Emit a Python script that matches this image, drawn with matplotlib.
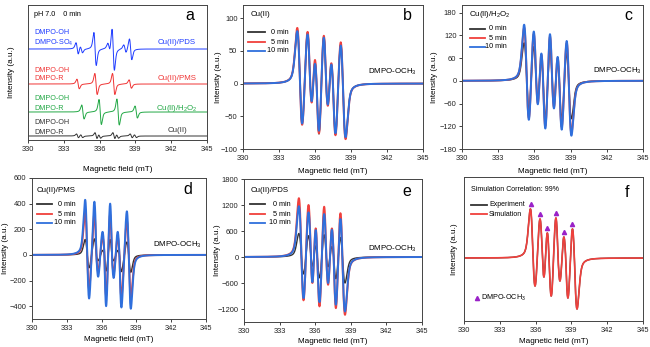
import numpy as np
import matplotlib
matplotlib.use("Agg")
import matplotlib.pyplot as plt

plt.rcParams['font.family'] = ['Liberation Sans', 'DejaVu Sans']
plt.rcParams['mathtext.fontset'] = 'custom'
plt.rcParams['mathtext.rm'] = 'Liberation Sans'
plt.rcParams['mathtext.it'] = 'Liberation Sans'

W, H = 650, 347

# ---------------- DATA ----------------
field_ticks = [330, 333, 336, 339, 342, 345]
series_labels = ["0 min", "5 min", "10 min"]

# Panel a: stacked spectra, line centres (mT) and half peak-to-peak amplitudes (arb.)
a_blue_centers = [334.12, 334.47, 335.62, 336.78, 337.14, 338.12, 338.60]
a_blue_amps = [6.0, 3.5, 16.5, 4.5, 21.0, 4.0, 10.5]
a_red_centers = [334.20, 335.70, 337.18, 338.57]
a_red_amps = [4.8, 10.5, 10.5, 4.2]
a_green_centers = [334.60, 336.05, 337.55, 339.07]
a_green_amps = [7.0, 12.5, 13.0, 6.0]
a_black_centers = [334.15, 334.50, 335.70, 336.00, 337.20, 337.50, 338.65, 339.00]
a_black_amps = [2.0, 1.5, 3.2, 2.0, 3.2, 2.0, 2.0, 1.5]

# Panel b: Cu(II) – extrema positions (mT) and values
b_peak_x = [334.53, 335.42, 335.97, 336.75, 337.33, 338.14]
b_trough_x = [334.94, 335.72, 336.33, 337.08, 337.70, 338.53]
b_peaks_0 = [82, 78, 33, 72, 29, 60]
b_troughs_0 = [-60, -27, -77, -32, -77, -82]
b_peaks_5 = [85, 79, 36, 73, 31, 63]
b_troughs_5 = [-63, -29, -76, -34, -79, -85]
b_peaks_10 = [80, 75, 30, 70, 29, 58]
b_troughs_10 = [-61, -27, -72, -32, -76, -82]

# Panel c: Cu(II)/H2O2
c_peak_x = [335.15, 335.98, 336.56, 337.30, 337.90, 338.68]
c_trough_x = [335.56, 336.28, 336.90, 337.63, 338.26, 339.04]
c_peaks_0 = [100, 90, 55, 82, 52, 72]
c_troughs_0 = [-75, -45, -98, -55, -100, -100]
c_peaks_5 = [140, 124, 68, 117, 60, 100]
c_troughs_5 = [-98, -59, -120, -69, -122, -138]
c_peaks_10 = [148, 130, 72, 123, 63, 105]
c_troughs_10 = [-103, -62, -126, -73, -129, -145]

# Panel d: Cu(II)/PMS
d_peak_x = [334.57, 335.43, 336.09, 336.78, 337.41, 338.16]
d_trough_x = [334.94, 335.66, 336.38, 337.00, 337.67, 338.53]
d_peaks_0 = [120, 125, 35, 120, 35, 100]
d_troughs_0 = [-100, -45, -125, -45, -130, -135]
d_peaks_5 = [330, 320, 140, 315, 140, 265]
d_troughs_5 = [-265, -130, -320, -140, -330, -335]
d_peaks_10 = [430, 415, 180, 400, 180, 340]
d_troughs_10 = [-340, -170, -400, -180, -410, -420]

# Panel e: Cu(II)/PDS
e_peak_x = [334.63, 335.47, 336.04, 336.76, 337.38, 338.11]
e_trough_x = [335.03, 335.76, 336.34, 337.10, 337.75, 338.50]
e_peaks_0 = [543, 490, 256, 512, 240, 450]
e_troughs_0 = [-390, -210, -480, -225, -500, -600]
e_peaks_5 = [1357, 1200, 660, 1160, 660, 1010]
e_troughs_5 = [-1000, -600, -1140, -640, -1180, -1335]
e_peaks_10 = [1171, 1030, 620, 990, 630, 877]
e_troughs_10 = [-950, -580, -1040, -600, -1100, -1257]

# Panel f: experiment / simulation (arb. units)
f_peak_x = [335.59, 336.37, 336.98, 337.71, 338.36, 339.08]
f_trough_x = [335.95, 336.73, 337.29, 338.05, 338.70, 339.45]
f_peaks = [49, 39, 25, 40, 21, 29]
f_troughs = [-28, -19, -38, -23, -40, -51]

# ---------------- helpers ----------------
x = np.linspace(330, 345, 3001)


def profile(xx, c, h, eta=0.5):
    u = (xx - c) / h
    lor = (16.0 / 9.0) * (-u) / (1 + u ** 2 / 3.0) ** 2
    gau = -u * np.exp(0.5 - u ** 2 / 2.0)
    return eta * lor + (1 - eta) * gau


def lines_spectrum(centers, amps, h):
    c = np.asarray(centers)[None, :]
    return (profile(x[:, None], c, h) * np.asarray(amps)[None, :]).sum(axis=1)


def fitted_spectrum(px, tx, pv, tv, hfac=1.2, eta=0.35):
    """Derivative lines whose positive / negative lobes are scaled so that the
    summed curve reaches the peak and trough values read from the picture."""
    px, tx = np.asarray(px, float), np.asarray(tx, float)
    pv, tv = np.asarray(pv, float), np.asarray(tv, float)
    centers = (px + tx) / 2
    h = np.mean(tx - px) / 2 * hfac
    U = (x[:, None] - centers[None, :]) / h
    G = profile(x[:, None], centers[None, :], h, eta)
    neg = U < 0
    Ap, At = pv.copy(), -tv.copy()
    y = None
    for _ in range(150):
        y = np.where(neg, G * Ap[None, :], G * At[None, :]).sum(axis=1)
        ap = np.array([y[np.abs(x - p) < 0.1].max() for p in px])
        at = np.array([y[np.abs(x - t) < 0.1].min() for t in tx])
        Ap += 0.5 * (pv - ap)
        At += 0.5 * (at - tv)
    return y


fig = plt.figure(figsize=(W / 100, H / 100), dpi=100)


def add_ax(l, t, r, b):
    return fig.add_axes([l / W, 1 - b / H, (r - l) / W, (b - t) / H])


def ftext(xp, yp, s, **kw):
    kw.setdefault('fontsize', 5.2)
    kw.setdefault('va', 'center')
    fig.text(xp / W, 1 - yp / H, s, **kw)


def fline(x0, x1, yp, color, lw=1.3):
    fig.add_artist(plt.Line2D([x0 / W, x1 / W], [1 - yp / H, 1 - yp / H],
                              color=color, lw=lw, transform=fig.transFigure))


def style(ax, ylab_x, xlab_y, yticks=None):
    ax.set_xlim(330, 345)
    ax.set_xticks(field_ticks)
    ax.tick_params(labelsize=5.4, length=2.5, width=0.6, direction='out', pad=1.5,
                   colors='#222222')
    for s in ax.spines.values():
        s.set_linewidth(0.7)
        s.set_color('#444444')
    if yticks is None:
        ax.set_yticks([])
    else:
        ax.set_yticks(yticks)
    ax.set_xlabel("Magnetic field (mT)", fontsize=5.9)
    ax.set_ylabel("Intensity (a.u.)", fontsize=5.9)
    ax.xaxis.set_label_coords(0.5, xlab_y)
    ax.yaxis.set_label_coords(ylab_x, 0.5)


BLK = '#333333'
RED = '#f0403c'
BLU = '#2f6fdc'
cols = [BLK, RED, BLU]
lws = [1.0, 1.4, 1.4]

# ---------------- Panel a ----------------
ax = add_ax(28, 5, 207, 140)
A_BLU, A_RED, A_GRN = '#1f3cff', '#f03434', '#22a845'
ax.plot(x, 4 + lines_spectrum(a_black_centers, a_black_amps, 0.09), color=BLK, lw=0.7)
ax.plot(x, 28 + lines_spectrum(a_green_centers, a_green_amps, 0.1), color=A_GRN, lw=0.7)
ax.plot(x, 56 + lines_spectrum(a_red_centers, a_red_amps, 0.1), color=A_RED, lw=0.7)
ax.plot(x, 91 + lines_spectrum(a_blue_centers, a_blue_amps, 0.1), color=A_BLU, lw=0.7)
ax.set_ylim(0, 135)
style(ax, -0.07, -0.19)
ftext(34, 15, "pH 7.0    0 min")
ftext(190, 16, "a", fontsize=11.5, ha='center')
for yp, s, c in [(33, "DMPO-OH", A_BLU), (43, "DMPO-SO$_4$", A_BLU),
                 (70, "DMPO-OH", A_RED), (79, "DMPO-R", A_RED),
                 (99, "DMPO-OH", A_GRN), (108, "DMPO-R", A_GRN),
                 (123, "DMPO-OH", BLK), (132, "DMPO-R", BLK)]:
    ftext(34, yp, s, color=c)
for yp, s, c in [(43, "Cu(II)/PDS", A_BLU), (79, "Cu(II)/PMS", A_RED),
                 (108, "Cu(II)/H$_2$O$_2$", A_GRN), (131, "Cu(II)", BLK)]:
    ftext(177, yp, s, color=c, ha='center', fontsize=5.7)


def time_panel(box, data, ylim, yticks, title, title_xy, letter_xy, letter,
               leg_x0, leg_x1, leg_tx, leg_ys, lab_xy, ylab_x, xlab_y):
    ax = add_ax(*box)
    for (px, tx, pv, tv), c, lw in zip(data, cols, lws):
        ax.plot(x, fitted_spectrum(px, tx, pv, tv), color=c, lw=lw)
    ax.set_ylim(*ylim)
    style(ax, ylab_x, xlab_y, yticks)
    ftext(title_xy[0], title_xy[1], title, fontsize=5.7)
    ftext(letter_xy[0], letter_xy[1], letter, fontsize=11.5, ha='center')
    for yp, c, s in zip(leg_ys, cols, series_labels):
        fline(leg_x0, leg_x1, yp, c)
        ftext(leg_tx, yp, s, ha='right')
    ftext(lab_xy[0], lab_xy[1], "DMPO-OCH$_3$", fontsize=5.7)


time_panel((243, 5, 423, 149),
           [(b_peak_x, b_trough_x, b_peaks_0, b_troughs_0),
            (b_peak_x, b_trough_x, b_peaks_5, b_troughs_5),
            (b_peak_x, b_trough_x, b_peaks_10, b_troughs_10)],
           (-100, 120), [-100, -50, 0, 50, 100], "Cu(II)", (251, 15), (407, 16), "b",
           248, 265, 289, [32, 42, 51], (368, 72), -0.114, -0.132)

time_panel((462, 5, 643, 149),
           [(c_peak_x, c_trough_x, c_peaks_0, c_troughs_0),
            (c_peak_x, c_trough_x, c_peaks_5, c_troughs_5),
            (c_peak_x, c_trough_x, c_peaks_10, c_troughs_10)],
           (-180, 200), [-180, -120, -60, 0, 60, 120, 180], "Cu(II)/H$_2$O$_2$",
           (469, 15), (628, 16), "c",
           470, 485, 507, [29, 38, 47], (593, 71), -0.13, -0.132)

time_panel((32, 178, 206, 319),
           [(d_peak_x, d_trough_x, d_peaks_0, d_troughs_0),
            (d_peak_x, d_trough_x, d_peaks_5, d_troughs_5),
            (d_peak_x, d_trough_x, d_peaks_10, d_troughs_10)],
           (-500, 600), [-400, -200, 0, 200, 400, 600], "Cu(II)/PMS",
           (37, 191), (188, 190), "d",
           37, 52, 76, [204, 214, 223], (153, 245), -0.135, -0.12)

time_panel((244, 179, 422, 322),
           [(e_peak_x, e_trough_x, e_peaks_0, e_troughs_0),
            (e_peak_x, e_trough_x, e_peaks_5, e_troughs_5),
            (e_peak_x, e_trough_x, e_peaks_10, e_troughs_10)],
           (-1500, 1800), [-1200, -600, 0, 600, 1200, 1800], "Cu(II)/PDS",
           (251, 191), (407, 191), "e",
           250, 265, 291, [204, 214, 223], (368, 249), -0.129, -0.112)

# ---------------- Panel f ----------------
ax = add_ax(464, 177, 643, 321)
fy = fitted_spectrum(f_peak_x, f_trough_x, f_peaks, f_troughs)
ax.plot(x, fy, color=BLK, lw=1.0)
ax.plot(x, fy, color=RED, lw=1.2)
PUR = '#9a22c8'
ax.plot(f_peak_x, np.asarray(f_peaks) + 5, ls='none', marker='^', ms=3, color=PUR)
ax.set_ylim(-63, 81)
style(ax, -0.031, -0.118)
ftext(471, 190, "Simulation Correlation: 99%", fontsize=5)
ftext(627, 192, "f", fontsize=11.5, ha='center')
fline(471, 487, 205, BLK)
fline(471, 487, 214, RED)
ftext(489, 205, "Experiment", fontsize=5)
ftext(489, 214, "Simulation", fontsize=5)
fig.add_artist(plt.Line2D([477 / W], [1 - 298 / H], marker='^', ms=3, color=PUR,
                          ls='none', transform=fig.transFigure))
ftext(481, 298, "DMPO-OCH$_3$", fontsize=5.2)

fig.savefig("out.png", dpi=100)
